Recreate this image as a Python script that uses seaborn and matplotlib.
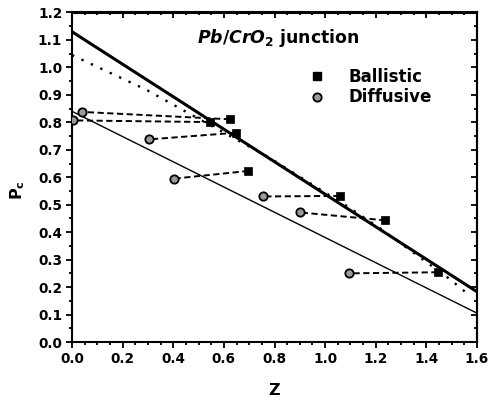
import matplotlib
matplotlib.use("Agg")
import matplotlib.pyplot as plt
import seaborn as sns
import pandas as pd
from matplotlib.lines import Line2D
from matplotlib.ticker import MultipleLocator

# ---- data ----
ballistic_z = [0.624, 0.544, 0.647, 0.697, 1.057, 1.238, 1.444]
ballistic_p = [0.811, 0.801, 0.762, 0.623, 0.532, 0.443, 0.254]
diffusive_z = [0.038, 0.003, 0.306, 0.404, 0.754, 0.899, 1.096]
diffusive_p = [0.838, 0.807, 0.738, 0.595, 0.530, 0.472, 0.250]

fit_thick_z = [0.0, 1.6]
fit_thick_p = [1.13, 0.183]
fit_thin_z = [0.0, 1.6]
fit_thin_p = [0.84, 0.105]
fit_dot_z = [0.0, 0.295, 0.457, 0.769, 0.941, 1.079, 1.217, 1.494, 1.57]
fit_dot_p = [1.045, 0.918, 0.835, 0.677, 0.578, 0.499, 0.414, 0.228, 0.17]

x_ticks = [0.0, 0.2, 0.4, 0.6, 0.8, 1.0, 1.2, 1.4, 1.6]
y_ticks = [0.0, 0.1, 0.2, 0.3, 0.4, 0.5, 0.6, 0.7, 0.8, 0.9, 1.0, 1.1, 1.2]

sns.set_style("ticks")
plt.rcParams.update({
    "font.family": ["DejaVu Sans"],
    "font.weight": "bold",
    "text.color": "black",
    "axes.labelcolor": "black",
    "xtick.color": "black",
    "ytick.color": "black",
    "axes.edgecolor": "black",
    "mathtext.fontset": "custom",
    "mathtext.rm": "DejaVu Sans:bold",
    "mathtext.bf": "DejaVu Sans:bold",
    "mathtext.it": "DejaVu Sans:italic:bold",
})

fig = plt.figure(figsize=(4.88, 4.03), dpi=100)
ax = fig.add_axes([72 / 488, 1 - 342 / 403, 405 / 488, 329.5 / 403])

# connectors between paired points
pairs = pd.DataFrame({
    "z": ballistic_z + diffusive_z,
    "p": ballistic_p + diffusive_p,
    "pair": list(range(len(ballistic_z))) * 2,
})
sns.lineplot(data=pairs, x="z", y="p", units="pair", estimator=None, sort=False,
             color="black", lw=1.4, ax=ax, legend=False, dashes=False)
for ln in ax.lines:
    ln.set_dashes((3.2, 1.8))

# fit lines
sns.lineplot(x=fit_thick_z, y=fit_thick_p, color="black", lw=2.2, ax=ax)
sns.lineplot(x=fit_thin_z, y=fit_thin_p, color="black", lw=1.0, ax=ax)
sns.lineplot(x=fit_dot_z, y=fit_dot_p, color="black", lw=1.7, ax=ax)
ax.lines[-1].set_linestyle((0, (1, 3.4)))

# markers
sns.scatterplot(x=ballistic_z, y=ballistic_p, marker="s", s=36, color="black",
                edgecolor="black", linewidth=0.5, ax=ax, zorder=5)
sns.scatterplot(x=diffusive_z, y=diffusive_p, marker="o", s=36, color="#9a9a9a",
                edgecolor="black", linewidth=1.3, ax=ax, zorder=5)

ax.set_xlim(0, 1.6)
ax.set_ylim(0, 1.2)
ax.set_xticks(x_ticks)
ax.set_yticks(y_ticks)
ax.set_xticklabels([f"{v:.1f}" for v in x_ticks])
ax.set_yticklabels([f"{v:.1f}" for v in y_ticks])
ax.xaxis.set_minor_locator(MultipleLocator(0.05))
ax.yaxis.set_minor_locator(MultipleLocator(0.05))

for s in ax.spines.values():
    s.set_visible(True)
    s.set_linewidth(1.5)
ax.tick_params(which="both", direction="out", width=1.3, labelsize=9.8,
               colors="black", pad=2.5)
ax.tick_params(which="major", length=4.5)
ax.tick_params(which="minor", length=2.5)
for lab in ax.get_xticklabels() + ax.get_yticklabels():
    lab.set_fontweight("bold")

# mirrored inward ticks on top and right
axt = ax.secondary_xaxis("top")
axt.set_xticks(x_ticks)
axt.xaxis.set_minor_locator(MultipleLocator(0.05))
axt.tick_params(which="both", direction="in", width=1.3, labeltop=False)
axt.tick_params(which="major", length=4.5)
axt.tick_params(which="minor", length=2.5)
axt.spines["top"].set_linewidth(1.5)
axr = ax.secondary_yaxis("right")
axr.set_yticks(y_ticks)
axr.yaxis.set_minor_locator(MultipleLocator(0.05))
axr.tick_params(which="both", direction="in", width=1.3, labelright=False)
axr.tick_params(which="major", length=4.5)
axr.tick_params(which="minor", length=2.5)
axr.spines["right"].set_linewidth(1.5)

ax.set_xlabel("Z", fontsize=11.5, fontweight="bold")
ax.xaxis.set_label_coords(0.5, -0.125)
ax.set_ylabel(r"P$_{\mathbf{c}}$", fontsize=11.5, fontweight="bold")
ax.yaxis.set_label_coords(-0.11, 0.46)

ax.text(0.308, 0.907, r"$\mathit{Pb/CrO}_{\mathbf{2}}$ junction", transform=ax.transAxes,
        fontsize=12.5, fontweight="bold", va="baseline", ha="left")

handles = [
    Line2D([], [], marker="s", linestyle="none", markersize=6, color="black"),
    Line2D([], [], marker="o", linestyle="none", markersize=6,
           markerfacecolor="#9a9a9a", markeredgecolor="black", markeredgewidth=1.3),
]
ax.legend(handles, ["Ballistic", "Diffusive"], loc="upper left",
          bbox_to_anchor=(0.585, 0.832), frameon=False, borderpad=0,
          borderaxespad=0, handlelength=1.0, handletextpad=1.35,
          labelspacing=0.15, prop={"size": 12, "weight": "bold"})

fig.savefig("out.png", dpi=100)
